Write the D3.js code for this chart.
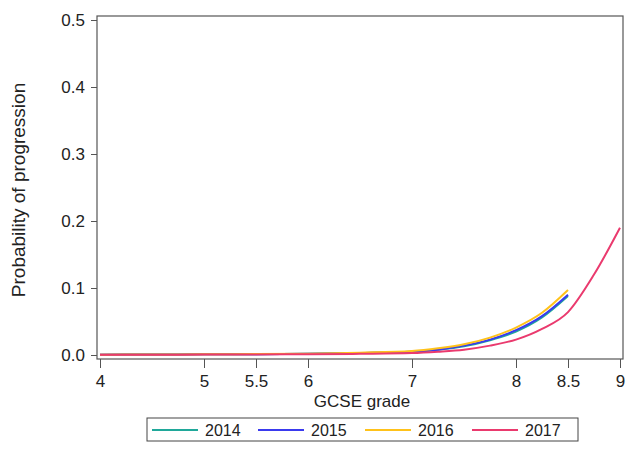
<!DOCTYPE html>
<html>
<head>
<meta charset="utf-8">
<script src="https://cdn.jsdelivr.net/npm/d3@7"></script>
<style>
  body { margin: 0; background: #fff; }
  svg { display: block; font-family: "Liberation Sans", Arial, sans-serif; }
</style>
</head>
<body>
<svg id="chart" width="627" height="470"></svg>
<script>
// ---- data ----
const years = ["2014", "2015", "2016", "2017"];
const colors = ["#20a89a", "#3a3aee", "#ffc21a", "#ea3a6e"];
const xTicks = [4, 5, 5.5, 6, 7, 8, 8.5, 9];
const yTicks = [0.0, 0.1, 0.2, 0.3, 0.4, 0.5];

const grades = [4, 4.5, 5, 5.5, 6, 6.5, 7, 7.25, 7.5, 7.75, 8, 8.25, 8.5];
const grades2017 = [4, 4.5, 5, 5.5, 6, 6.5, 7, 7.25, 7.5, 7.75, 8, 8.25, 8.5, 8.75, 9];

const p2014 = [0.0005, 0.0007, 0.001, 0.0013, 0.0018, 0.003, 0.005, 0.008, 0.013, 0.022, 0.035, 0.056, 0.088];
const p2015 = [0.0005, 0.0007, 0.001, 0.0013, 0.0018, 0.003, 0.005, 0.008, 0.014, 0.023, 0.037, 0.058, 0.090];
const p2016 = [0.0005, 0.0007, 0.001, 0.0014, 0.002, 0.0035, 0.006, 0.010, 0.016, 0.026, 0.041, 0.063, 0.097];
const p2017 = [0.0003, 0.0004, 0.0006, 0.0008, 0.0011, 0.0018, 0.003, 0.005, 0.008, 0.014, 0.023, 0.039, 0.064, 0.120, 0.190];

const series = [
  { name: years[0], x: grades, y: p2014 },
  { name: years[1], x: grades, y: p2015 },
  { name: years[2], x: grades, y: p2016 },
  { name: years[3], x: grades2017, y: p2017 }
];

// ---- layout ----
const svg = d3.select("#chart");
const box = { left: 97, right: 623, top: 16, bottom: 359 };
const x = d3.scaleLinear().domain([4, 9]).range([100, 620]);
const y = d3.scaleLinear().domain([0, 0.5]).range([355, 20]);
const FONT = "Liberation Sans, Arial, sans-serif";

// plot box
svg.append("rect")
  .attr("x", box.left).attr("y", box.top)
  .attr("width", box.right - box.left).attr("height", box.bottom - box.top)
  .attr("fill", "#fff").attr("stroke", "#555").attr("stroke-width", 1.2);

// y axis
const yAxis = svg.append("g")
  .attr("transform", `translate(${box.left},0)`)
  .call(d3.axisLeft(y).tickValues(yTicks).tickFormat(d3.format(".1f")).tickSize(6).tickPadding(6));
yAxis.select(".domain").remove();
yAxis.selectAll("line").attr("stroke", "#555");
yAxis.selectAll("text").attr("font-size", 17).attr("fill", "#222").attr("font-family", FONT);

// x axis
const xAxis = svg.append("g")
  .attr("transform", `translate(0,${box.bottom})`)
  .call(d3.axisBottom(x).tickValues(xTicks).tickFormat(d => String(d)).tickSize(9).tickPadding(7));
xAxis.select(".domain").remove();
xAxis.selectAll("line").attr("stroke", "#555");
xAxis.selectAll("text").attr("font-size", 17).attr("fill", "#222").attr("font-family", FONT);

// axis titles
svg.append("text")
  .attr("transform", "translate(25,190) rotate(-90)")
  .attr("text-anchor", "middle")
  .attr("font-size", 19).attr("fill", "#222")
  .text("Probability of progression");
svg.append("text")
  .attr("x", 362).attr("y", 407)
  .attr("text-anchor", "middle")
  .attr("font-size", 17).attr("fill", "#222")
  .text("GCSE grade");

// lines
const line = d3.line().curve(d3.curveMonotoneX);
series.forEach((s, i) => {
  const pts = s.x.map((g, k) => [x(g), y(s.y[k])]);
  svg.append("path")
    .attr("d", line(pts))
    .attr("fill", "none")
    .attr("stroke", colors[i])
    .attr("stroke-width", 2);
});

// legend
const lg = svg.append("g");
lg.append("rect")
  .attr("x", 147).attr("y", 418).attr("width", 431).attr("height", 23)
  .attr("fill", "#fff").attr("stroke", "#444").attr("stroke-width", 1);
const itemX = [152, 258, 365, 472];
years.forEach((yr, i) => {
  lg.append("line")
    .attr("x1", itemX[i]).attr("x2", itemX[i] + 46)
    .attr("y1", 430).attr("y2", 430)
    .attr("stroke", colors[i]).attr("stroke-width", 2);
  lg.append("text")
    .attr("x", itemX[i] + 53).attr("y", 436)
    .attr("font-size", 16).attr("fill", "#222")
    .text(yr);
});
</script>
</body>
</html>
